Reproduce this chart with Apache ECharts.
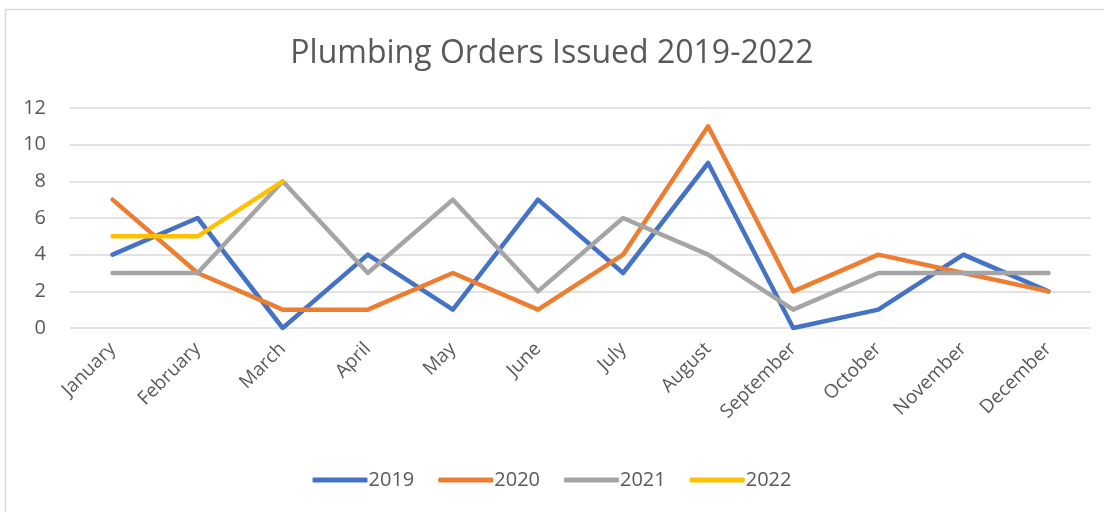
<!DOCTYPE html>
<html>
<head>
<meta charset="utf-8">
<script src="https://cdn.jsdelivr.net/npm/echarts@6/dist/echarts.min.js"></script>
<style>
  html, body { margin: 0; padding: 0; background: #fff; }
  #chart { width: 1104px; height: 512px; }
</style>
</head>
<body>
<div id="chart"></div>
<script>
const months = ["January", "February", "March", "April", "May", "June",
  "July", "August", "September", "October", "November", "December"];
const orders2019 = [4, 6, 0, 4, 1, 7, 3, 9, 0, 1, 4, 2];
const orders2020 = [7, 3, 1, 1, 3, 1, 4, 11, 2, 4, 3, 2];
const orders2021 = [3, 3, 8, 3, 7, 2, 6, 4, 1, 3, 3, 3];
const orders2022 = [5, 5, 8];
const yTicks = [0, 2, 4, 6, 8, 10, 12];

const font = "'Open Sans', sans-serif";
const textColor = "#595959";

const makeLine = (name, data, color) => ({
  name,
  type: "line",
  data,
  symbol: "none",
  lineStyle: { width: 4.5, color, cap: "round", join: "round" },
  itemStyle: { color },
});

const chart = echarts.init(document.getElementById("chart"));
chart.setOption({
  animation: false,
  backgroundColor: "#fff",
  graphic: [
    {
      type: "rect",
      shape: { x: 5.5, y: 9.5, width: 1200, height: 600 },
      style: { fill: "none", stroke: "#d9d9d9", lineWidth: 1.5 },
      silent: true,
    },
  ],
  title: {
    text: "Plumbing Orders Issued 2019-2022",
    left: "center",
    top: 33,
    textStyle: { fontFamily: font, fontSize: 32, fontWeight: "normal", color: textColor },
  },
  legend: {
    bottom: 17,
    left: "center",
    itemWidth: 55,
    itemHeight: 5,
    itemGap: 24,
    icon: "roundRect",
    textStyle: { fontFamily: font, fontSize: 20, color: textColor, padding: [0, 0, 0, -4] },
  },
  grid: { left: 70, right: 13, top: 108, bottom: 184 },
  xAxis: {
    type: "category",
    data: months,
    boundaryGap: true,
    axisLine: { show: false },
    axisTick: { show: false },
    axisLabel: {
      rotate: 45,
      margin: 18,
      interval: 0,
      fontFamily: font,
      fontSize: 19,
      color: textColor,
    },
  },
  yAxis: {
    type: "value",
    min: yTicks[0],
    max: yTicks[yTicks.length - 1],
    interval: 2,
    axisLine: { show: false },
    axisTick: { show: false },
    axisLabel: { margin: 24, fontFamily: font, fontSize: 20, color: textColor },
    splitLine: { lineStyle: { color: "#d9d9d9", width: 1.5 } },
  },
  series: [
    makeLine("2019", orders2019, "#4472c4"),
    makeLine("2020", orders2020, "#ed7d31"),
    makeLine("2021", orders2021, "#a5a5a5"),
    makeLine("2022", orders2022, "#ffc000"),
  ],
});
</script>
</body>
</html>
